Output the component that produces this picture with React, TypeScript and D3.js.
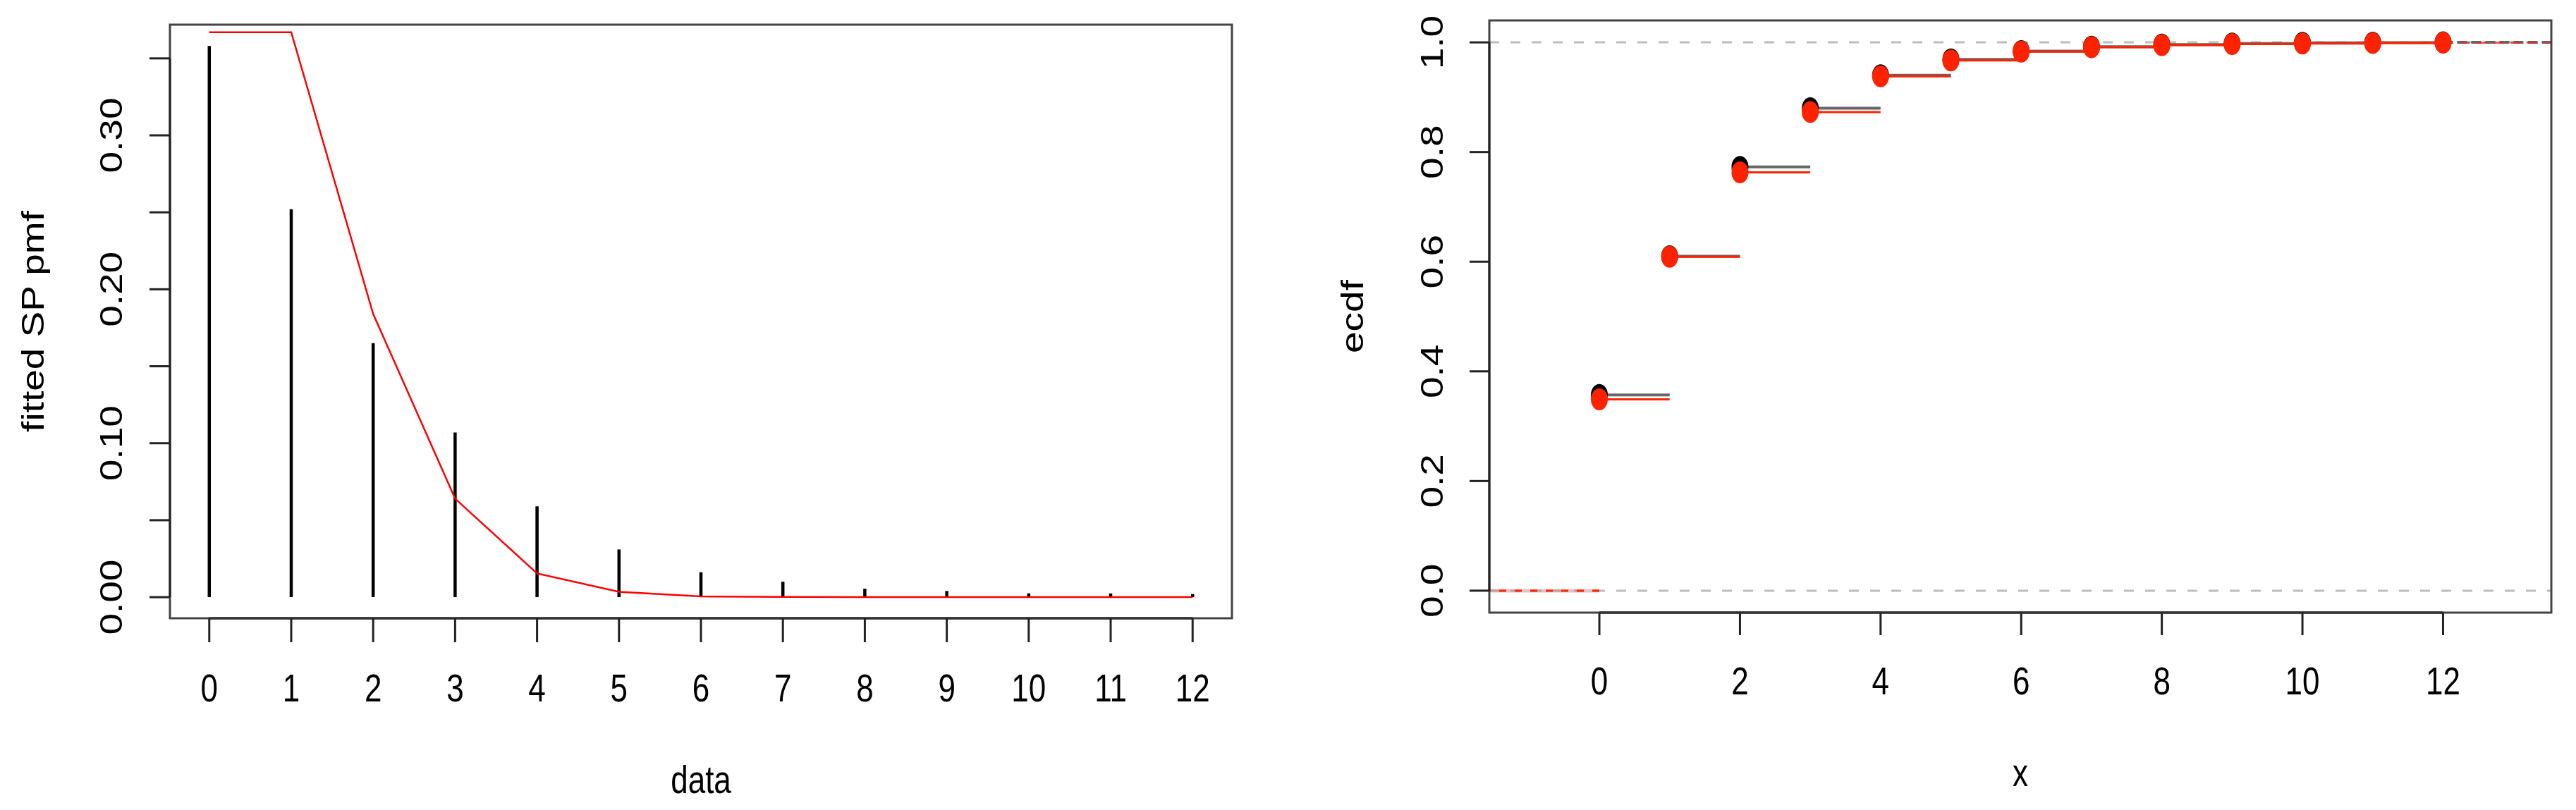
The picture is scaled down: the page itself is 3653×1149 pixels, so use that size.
import React from "react";
import * as d3 from "d3";

// ---------- data ----------
const counts = [0, 1, 2, 3, 4, 5, 6, 7, 8, 9, 10, 11, 12];
const empiricalPmf = [0.358, 0.252, 0.165, 0.107, 0.059, 0.031, 0.0162, 0.010, 0.0055, 0.004, 0.0025, 0.0024, 0.002];
const fittedPmf = [0.367, 0.367, 0.184, 0.064, 0.0154, 0.0035, 0.0005, 0.0001, 0, 0, 0, 0, 0];
const empiricalCdf = [0.357, 0.610, 0.773, 0.880, 0.940, 0.969, 0.984, 0.992, 0.996, 0.998, 0.9992, 0.9996, 1.0];
const fittedCdf = [0.349, 0.609, 0.763, 0.873, 0.938, 0.967, 0.983, 0.991, 0.995, 0.997, 0.998, 0.999, 0.9995];

const leftYTicks = [0, 0.05, 0.1, 0.15, 0.2, 0.25, 0.3, 0.35];
const leftYLabels = [0, 0.1, 0.2, 0.3];
const leftXTicks = [0, 1, 2, 3, 4, 5, 6, 7, 8, 9, 10, 11, 12];
const rightYTicks = [0, 0.2, 0.4, 0.6, 0.8, 1.0];
const rightXTicks = [0, 2, 4, 6, 8, 10, 12];

const FONT = "'Liberation Sans', Arial, Helvetica, sans-serif";
const FS = 44;
const STRETCH = 1.25;

function HText({ x, y, text }: { x: number; y: number; text: string }) {
  return (
    <text
      transform={`translate(${x},${y}) scale(1,${STRETCH})`}
      textAnchor="middle"
      fontFamily={FONT}
      fontSize={FS}
      fill="#000"
    >
      {text}
    </text>
  );
}

function VText({ x, y, text }: { x: number; y: number; text: string }) {
  return (
    <text
      transform={`translate(${x},${y}) scale(1,${STRETCH}) rotate(-90)`}
      textAnchor="middle"
      fontFamily={FONT}
      fontSize={FS}
      fill="#000"
    >
      {text}
    </text>
  );
}

export default function App() {
  // left panel
  const L = { left: 241, right: 1747, top: 35, bottom: 877 };
  const lx = d3.scaleLinear().domain([-0.48, 12.48]).range([L.left, L.right]);
  const ly = d3.scaleLinear().domain([-0.0137, 0.3719]).range([L.bottom, L.top]);
  const fmt2 = d3.format(".2f");
  const redLine = d3
    .line<number>()
    .x((_, i) => lx(counts[i]))
    .y((d) => ly(d));

  // right panel
  const R = { left: 2112, right: 3618, top: 29, bottom: 869 };
  const rx = d3.scaleLinear().domain([-1.565, 13.54]).range([R.left, R.right]);
  const ry = d3.scaleLinear().domain([-0.04, 1.04]).range([R.bottom, R.top]);
  const fmt1 = d3.format(".1f");

  const tickLenH = 29;
  const tickLenV = 34;
  const ptRx = 12;
  const ptRy = 15.5;
  const RED = "#ff2200";

  return (
    <svg
      width={3653}
      height={1149}
      style={{ position: "absolute", left: 0, top: 0, display: "block", background: "#fff" }}
    >
      <rect x={0} y={0} width={3653} height={1149} fill="#fff" />

      {/* ================= LEFT PANEL ================= */}
      {counts.map((c, i) => (
        <line
          key={"bar" + i}
          x1={lx(c)}
          x2={lx(c)}
          y1={ly(0)}
          y2={ly(empiricalPmf[i])}
          stroke="#000"
          strokeWidth={4.5}
        />
      ))}
      <path d={redLine(fittedPmf) || ""} fill="none" stroke="#ff0000" strokeWidth={2.5} />

      <rect
        x={L.left}
        y={L.top}
        width={L.right - L.left}
        height={L.bottom - L.top}
        fill="none"
        stroke="#444"
        strokeWidth={3}
      />
      <line x1={lx(0)} x2={lx(12)} y1={L.bottom} y2={L.bottom} stroke="#333" strokeWidth={3.5} />
      {leftXTicks.map((t) => (
        <g key={"lxt" + t}>
          <line x1={lx(t)} x2={lx(t)} y1={L.bottom} y2={L.bottom + tickLenV} stroke="#222" strokeWidth={3} />
          <HText x={lx(t)} y={L.bottom + 118} text={String(t)} />
        </g>
      ))}
      <line x1={L.left} x2={L.left} y1={ly(0)} y2={ly(0.35)} stroke="#222" strokeWidth={3} />
      {leftYTicks.map((t) => (
        <line
          key={"lyt" + t}
          x1={L.left - tickLenH}
          x2={L.left}
          y1={ly(t)}
          y2={ly(t)}
          stroke="#222"
          strokeWidth={3}
        />
      ))}
      {leftYLabels.map((t) => (
        <VText key={"lyl" + t} x={173} y={ly(t)} text={fmt2(t)} />
      ))}
      <HText x={(L.left + L.right) / 2} y={1125} text="data" />
      <VText x={62} y={(L.top + L.bottom) / 2} text="fitted SP pmf" />

      {/* ================= RIGHT PANEL ================= */}
      {[0, 1].map((v) => (
        <line
          key={"ref" + v}
          x1={R.left}
          x2={R.right}
          y1={ry(v)}
          y2={ry(v)}
          stroke="#bdbdbd"
          strokeWidth={3}
          strokeDasharray="14 16"
        />
      ))}

      <line x1={R.left} x2={rx(0)} y1={ry(0)} y2={ry(0)} stroke="rgba(200,120,120,0.45)" strokeWidth={5} />
      <line
        x1={R.left}
        x2={rx(0)}
        y1={ry(0)}
        y2={ry(0)}
        stroke={RED}
        strokeWidth={3}
        strokeDasharray="10 12"
        strokeDashoffset={-14}
      />

      {counts.map((c, i) => (
        <line
          key={"es" + i}
          x1={rx(c)}
          x2={i < counts.length - 1 ? rx(counts[i + 1]) : R.right}
          y1={ry(empiricalCdf[i])}
          y2={ry(empiricalCdf[i])}
          stroke="#666"
          strokeWidth={4}
          strokeDasharray={i === counts.length - 1 ? "14 6" : undefined}
        />
      ))}
      {counts.map((c, i) => (
        <ellipse key={"ep" + i} cx={rx(c)} cy={ry(empiricalCdf[i])} rx={ptRx} ry={ptRy} fill="#000" />
      ))}

      {counts.map((c, i) => (
        <line
          key={"fs" + i}
          x1={rx(c)}
          x2={i < counts.length - 1 ? rx(counts[i + 1]) : R.right}
          y1={ry(fittedCdf[i])}
          y2={ry(fittedCdf[i])}
          stroke={i === counts.length - 1 ? "rgba(220,40,40,0.75)" : RED}
          strokeWidth={3}
          strokeDasharray={i === counts.length - 1 ? "14 10" : undefined}
        />
      ))}
      {counts.map((c, i) => (
        <ellipse key={"fp" + i} cx={rx(c)} cy={ry(fittedCdf[i])} rx={ptRx} ry={ptRy} fill={RED} />
      ))}

      <rect
        x={R.left}
        y={R.top}
        width={R.right - R.left}
        height={R.bottom - R.top}
        fill="none"
        stroke="#444"
        strokeWidth={3}
      />
      <line x1={rx(0)} x2={rx(12)} y1={R.bottom} y2={R.bottom} stroke="#333" strokeWidth={3.5} />
      {rightXTicks.map((t) => (
        <g key={"rxt" + t}>
          <line x1={rx(t)} x2={rx(t)} y1={R.bottom} y2={R.bottom + 32} stroke="#222" strokeWidth={3} />
          <HText x={rx(t)} y={R.bottom + 116} text={String(t)} />
        </g>
      ))}
      <line x1={R.left} x2={R.left} y1={ry(0)} y2={ry(1)} stroke="#222" strokeWidth={3} />
      {rightYTicks.map((t) => (
        <g key={"ryt" + t}>
          <line
            x1={R.left - 28}
            x2={R.left}
            y1={ry(t)}
            y2={ry(t)}
            stroke="#222"
            strokeWidth={3}
          />
          <VText x={2046} y={ry(t)} text={fmt1(t)} />
        </g>
      ))}
      <HText x={(R.left + R.right) / 2} y={1115} text="x" />
      <VText x={1933} y={(R.top + R.bottom) / 2} text="ecdf" />
    </svg>
  );
}
